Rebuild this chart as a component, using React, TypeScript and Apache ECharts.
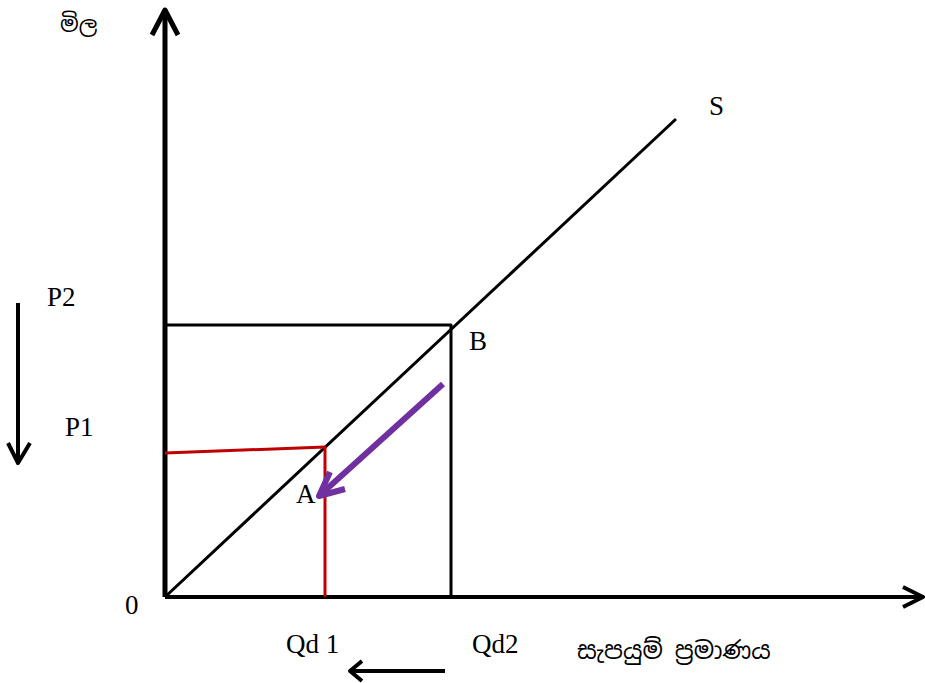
import React, { useEffect, useRef } from "react";
import * as echarts from "echarts";

// Supply curve S through the origin
const supplyLine: number[][] = [[0, 0], [51.1, 47.8]];
// Point B (price P2, quantity Qd2)
const pointB = { q: 28.6, p: 27.2 };
// Point A (price P1, quantity Qd 1)
const pointA = { q: 16.0, p: 15.0 };
const p1Left = 14.4; // P1 guide meets the price axis here
// Movement along the curve from B to A
const moveStart = [27.8, 21.3];
const moveEnd = [15.4, 10.1];
const moveHeadArms: number[][] = [[16.5, 12.5], [18.0, 10.8]];

// Drawn length of the two axes
const qtyAxisEnd = 75.8;
const priceAxisEnd = 58.7;

// Side arrows: price falls (P2 -> P1), quantity falls (Qd2 -> Qd 1)
const priceArrow: number[][] = [[-14.7, 29.4], [-14.7, 13.4]];
const priceArrowArms: number[][] = [[-15.7, 15.4], [-13.5, 15.4]];
const qtyArrow: number[][] = [[28.0, -7.4], [18.5, -7.4]];
const qtyArrowArms: number[][] = [[19.7, -6.4], [19.7, -8.4]];

// Plane spanned by the drawing (axes are hidden, the origin sits inside it)
const planeX = [-16.5, 76.0];
const planeY = [-8.6, 59.7];

const labels = [
  { text: "P2", x: 47, y: 297 },
  { text: "P1", x: 65, y: 427 },
  { text: "B", x: 469, y: 341 },
  { text: "A", x: 296, y: 494 },
  { text: "S", x: 709, y: 106 },
  { text: "0", x: 125, y: 605 },
  { text: "Qd 1", x: 286, y: 644 },
  { text: "Qd2", x: 472, y: 644 },
];

const SERIF = "'Liberation Serif', 'Times New Roman', serif";
const SINHALA = "'Noto Sans Sinhala', 'Iskoola Pota', 'Noto Sans', sans-serif";

function seg(name: string, data: number[][], color: string, width: number) {
  return {
    name,
    type: "line",
    data,
    symbol: "none",
    silent: true,
    lineStyle: { color, width, cap: "butt", join: "round" },
  };
}

function chevron(tip: number[], arms: number[][]) {
  return [arms[0], tip, arms[1]];
}

export default function App() {
  const ref = useRef<HTMLDivElement>(null);

  useEffect(() => {
    if (!ref.current) return;
    const chart = echarts.init(ref.current, undefined, { renderer: "svg" });
    const black = "#000000";
    const red = "#c00000";
    const purple = "#7030a0";

    chart.setOption({
      animation: false,
      backgroundColor: "#ffffff",
      grid: { left: 0, right: 0, top: 0, bottom: 0 },
      xAxis: { type: "value", min: planeX[0], max: planeX[1], show: false },
      yAxis: { type: "value", min: planeY[0], max: planeY[1], show: false },
      series: [
        seg("priceAxis", [[0, 0], [0, priceAxisEnd]], black, 5),
        seg(
          "priceAxisHead",
          chevron([0, priceAxisEnd], [[-1.3, priceAxisEnd - 2.5], [1.3, priceAxisEnd - 2.5]]),
          black,
          5
        ),
        seg("qtyAxis", [[0, 0], [qtyAxisEnd, 0]], black, 4),
        seg(
          "qtyAxisHead",
          chevron([qtyAxisEnd, 0], [[qtyAxisEnd - 2.0, 1.0], [qtyAxisEnd - 2.0, -1.0]]),
          black,
          4
        ),
        seg("supply", supplyLine, black, 3),
        seg("guideB", [[0, pointB.p], [pointB.q, pointB.p], [pointB.q, 0]], black, 3),
        seg("guideA", [[0, p1Left], [pointA.q, pointA.p], [pointA.q, 0]], red, 3),
        seg("move", [moveStart, moveEnd], purple, 6),
        seg("moveHead", chevron(moveEnd, moveHeadArms), purple, 6),
        seg("priceArrow", priceArrow, black, 4),
        seg("priceArrowHead", chevron(priceArrow[1], priceArrowArms), black, 4),
        seg("qtyArrow", qtyArrow, black, 4),
        seg("qtyArrowHead", chevron(qtyArrow[1], qtyArrowArms), black, 4),
      ],
      graphic: [
        ...labels.map((l) => ({
          type: "text",
          x: l.x,
          y: l.y,
          silent: true,
          style: {
            text: l.text,
            fontFamily: SERIF,
            fontSize: 27,
            fill: black,
            align: "left",
            verticalAlign: "middle",
          },
        })),
        {
          type: "text",
          x: 60,
          y: 24,
          silent: true,
          style: {
            text: "මිල",
            fontFamily: SINHALA,
            fontSize: 22,
            fill: black,
            align: "left",
            verticalAlign: "middle",
          },
        },
        {
          type: "text",
          x: 577,
          y: 650,
          silent: true,
          style: {
            text: "සැපයුම් ප්‍රමාණය",
            fontFamily: SINHALA,
            fontSize: 24,
            fill: black,
            align: "left",
            verticalAlign: "middle",
          },
        },
      ],
    });

    return () => chart.dispose();
  }, []);

  return <div ref={ref} style={{ width: 925, height: 683, position: "absolute", left: 0, top: 0 }} />;
}
